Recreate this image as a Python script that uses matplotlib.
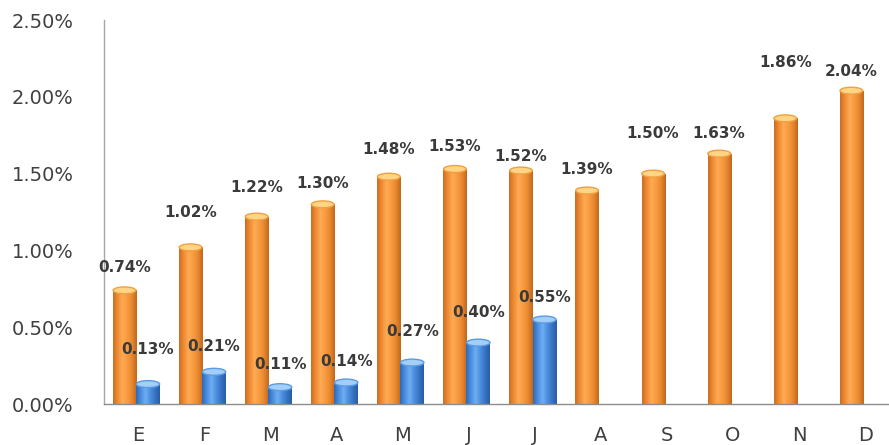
import numpy as np
import matplotlib
matplotlib.use("Agg")
import matplotlib.pyplot as plt
from matplotlib.colors import LinearSegmentedColormap
from matplotlib.patches import Ellipse

months = ["E", "F", "M", "A", "M", "J", "J", "A", "S", "O", "N", "D"]
series_orange = [0.74, 1.02, 1.22, 1.30, 1.48, 1.53, 1.52, 1.39, 1.50, 1.63, 1.86, 2.04]
series_blue = [0.13, 0.21, 0.11, 0.14, 0.27, 0.40, 0.55]
y_ticks = [0.0, 0.5, 1.0, 1.5, 2.0, 2.5]

# label offsets above the bar tops (pixels)
orange_label_dy = [23, 35, 29, 21, 27, 23, 14, 21, 40, 20, 56, 19]
blue_label_dy = [35, 25, 23, 21, 31, 30, 22]

fig = plt.figure(figsize=(8.89, 4.45), dpi=100)
ax = fig.add_axes([0.117, 0.092, 0.883, 0.863])

orange_cmap = LinearSegmentedColormap.from_list(
    "or", ["#CC6E22", "#F08C34", "#FFAA55", "#F89B40", "#E8882F", "#C0681E"])
blue_cmap = LinearSegmentedColormap.from_list(
    "bl", ["#2E6AB5", "#4A8EDF", "#70AEF2", "#4C8FDE", "#3674C4", "#2A5CA3"])
grad = np.linspace(0, 1, 64).reshape(1, -1)

cap_h = 0.045


def cylinders(xs, heights, width, base, cmap, cap_face, cap_edge):
    bars = ax.bar(xs, heights, width, color=base, zorder=2, linewidth=0)
    for b in bars:
        x0, w, h = b.get_x(), b.get_width(), b.get_height()
        im = ax.imshow(grad, extent=[x0, x0 + w, 0, h], aspect="auto",
                       cmap=cmap, origin="lower", zorder=2.1,
                       interpolation="bilinear")
        im.set_clip_path(b)
        ax.add_patch(Ellipse((x0 + w / 2, h), w * 0.98, cap_h,
                             facecolor=cap_face, edgecolor=cap_edge,
                             linewidth=1.0, zorder=2.2))
    return bars


x = np.arange(len(months))
xo = x - 0.21
xb = x[:len(series_blue)] + 0.145

cylinders(xo, series_orange, 0.35, "#F79A3E", orange_cmap, "#FFD585", "#F0A040")
cylinders(xb, series_blue, 0.36, "#4A8EDF", blue_cmap, "#A3CFF7", "#5A9BE5")

for xi, v, dy in zip(xo, series_orange, orange_label_dy):
    ax.annotate(f"{v:.2f}%", (xi, v), xytext=(0, dy * 0.72),
                textcoords="offset points", ha="center", va="center",
                fontsize=11, fontweight="bold", color="#3a3a3a", zorder=5)
for xi, v, dy in zip(xb, series_blue, blue_label_dy):
    ax.annotate(f"{v:.2f}%", (xi, v), xytext=(0, dy * 0.72),
                textcoords="offset points", ha="center", va="center",
                fontsize=11, fontweight="bold", color="#3a3a3a", zorder=5)

ax.set_xlim(-0.52, 11.36)
ax.set_ylim(0, 2.5)
ax.set_xticks(x)
ax.set_xticklabels(months)
ax.set_yticks(y_ticks)
ax.set_yticklabels([f"{v:.2f}%" for v in y_ticks])
ax.tick_params(axis="y", length=0, pad=22, labelsize=14, labelcolor="#404040")
ax.tick_params(axis="x", length=0, pad=16, labelsize=14, labelcolor="#404040")

for s in ["top", "right"]:
    ax.spines[s].set_visible(False)
ax.spines["left"].set_color("#A6A6A6")
ax.spines["bottom"].set_color("#8C8C8C")
ax.spines["left"].set_linewidth(1.0)
ax.spines["bottom"].set_linewidth(1.0)

fig.savefig("out.png", dpi=100)
